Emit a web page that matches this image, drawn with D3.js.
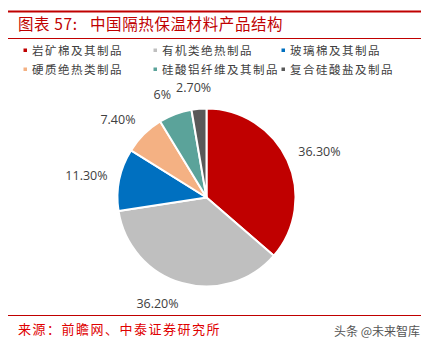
<!DOCTYPE html>
<html><head><meta charset="utf-8">
<script src="https://cdn.jsdelivr.net/npm/d3@7"></script>
<style>
html,body{margin:0;padding:0;background:#fff;}
svg{display:block;}
</style></head>
<body>
<svg id="chart" width="430" height="348"></svg>
<script>
const categories = ["岩矿棉及其制品","有机类绝热制品","玻璃棉及其制品","硬质绝热类制品","硅酸铝纤维及其制品","复合硅酸盐及制品"];
const values = [36.3, 36.2, 11.3, 7.4, 6, 2.7];
const valueLabels = ["36.30%","36.20%","11.30%","7.40%","6%","2.70%"];
const colors = ["#C00000","#BFBFBF","#0070C0","#F4B183","#5BA39A","#595959"];
const titleLead = "图表 57:";
const titleText = "中国隔热保温材料产品结构";
const sourceText = "来源：前瞻网、中泰证券研究所";
const watermark = "头条 @未来智库";

const svg = d3.select("#chart");
const cjk = "'Noto Sans CJK SC', sans-serif";

// header
svg.append("line").attr("x1",8).attr("x2",421).attr("y1",11.5).attr("y2",11.5)
  .attr("stroke","#C00000").attr("stroke-width",2);
const tt = svg.append("text").attr("y",30)
  .attr("font-family",cjk).attr("font-size",15.5).attr("fill","#C00000")
  .style("letter-spacing","0.6px");
tt.append("tspan").attr("x",18).text(titleLead);
tt.append("tspan").attr("x",90).text(titleText);
svg.append("line").attr("x1",8).attr("x2",421).attr("y1",38.5).attr("y2",38.5)
  .attr("stroke","#C00000").attr("stroke-width",1);

// legend
const legCols = [25, 155, 283];
const legRows = [50, 69];
const lg = svg.append("g");
categories.forEach((c,i)=>{
  const x = legCols[i%3], y = legRows[Math.floor(i/3)];
  lg.append("rect").attr("x",x-1.5).attr("y",y-1.5).attr("width",3.5).attr("height",3.5).attr("fill",colors[i]);
  lg.append("text").attr("x",x+7).attr("y",y+4.5).text(c)
    .attr("font-family",cjk).attr("font-size",11.5).attr("fill","#404040")
    .style("letter-spacing","1.5px");
});

// pie
const cx = 206.5, cy = 197.5, r = 89;
const pie = d3.pie().sort(null).value(d=>d)(values);
const arc = d3.arc().innerRadius(0).outerRadius(r);
const g = svg.append("g").attr("transform",`translate(${cx},${cy})`);
g.selectAll("path").data(pie).join("path")
  .attr("d",arc).attr("fill",(d,i)=>colors[i])
  .attr("stroke","#fff").attr("stroke-width",2).attr("stroke-linejoin","round");

const lr = r + 12;
const labels = g.selectAll("text.lbl").data(pie).join("text").attr("class","lbl")
  .attr("font-family","'Open Sans', sans-serif").attr("font-size",12.5).attr("fill","#404040")
  .attr("text-anchor","middle")
  .text((d,i)=>valueLabels[i]);
const boxes = [];
labels.each(function(d,i){
  const a = (d.startAngle+d.endAngle)/2;
  const s = Math.sin(a), c = -Math.cos(a);
  const w = this.getComputedTextLength();
  let x = lr*s + Math.sign(s)*w/2;
  const y = lr*c + c*9;
  if (boxes.length) {
    const p = boxes[boxes.length-1];
    if (Math.abs(p.y - y) < 14 && (x - w/2) < (p.x + p.w/2 + 5) && x > p.x - p.w) {
      x = p.x + p.w/2 + 5 + w/2;
    }
  }
  boxes.push({x,y,w});
  d3.select(this).attr("x",x).attr("y",y+4.5);
});

// footer
svg.append("line").attr("x1",8).attr("x2",421).attr("y1",315.5).attr("y2",315.5)
  .attr("stroke","#C00000").attr("stroke-width",1);
svg.append("text").attr("x",18).attr("y",334).text(sourceText)
  .attr("font-family",cjk).attr("font-size",13).attr("fill","#E00000").style("letter-spacing","1.5px");
svg.append("text").attr("x",420).attr("y",336).attr("text-anchor","end").text(watermark)
  .attr("font-family",cjk).attr("font-size",12).attr("fill","#555");
</script>
</body></html>
